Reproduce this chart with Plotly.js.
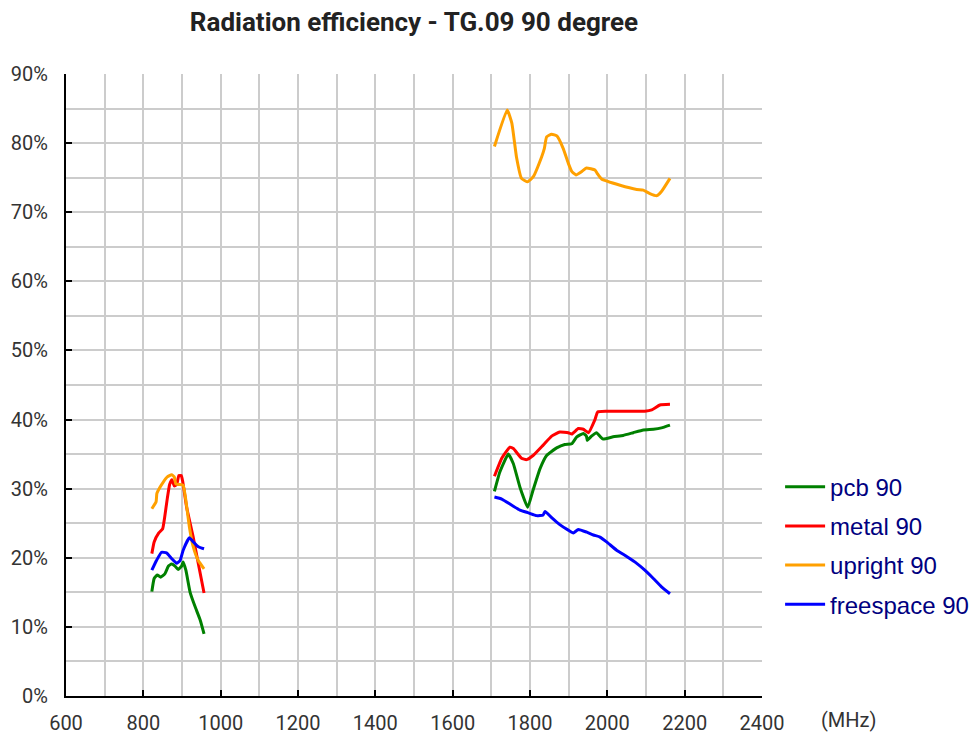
<!DOCTYPE html>
<html>
<head>
<meta charset="utf-8">
<script src="https://cdn.plot.ly/plotly-3.0.1.min.js"></script>
<style>html,body{margin:0;padding:0;background:#fff;}#chart{width:976px;height:740px;}</style>
</head>
<body>
<div id="chart"></div>
<script>
// Series names
var seriesNames = ['pcb 90', 'metal 90', 'upright 90', 'freespace 90'];

// pcb 90
var pcbLowX  = [822, 828, 836, 845, 856, 865, 873, 882, 890, 899, 903, 910, 921, 934, 947, 957];
var pcbLowY  = [15.1, 17.0, 17.5, 17.2, 17.7, 18.8, 19.1, 18.8, 18.3, 18.8, 19.4, 18.2, 15.0, 12.9, 11.0, 9.0];
var pcbHighX = [1708, 1722, 1744, 1757, 1774, 1794, 1808, 1826, 1843, 1869, 1890, 1908, 1921, 1938, 1946, 1948, 1959, 1972, 1988, 2015, 2041, 2067, 2093, 2119, 2140, 2162];
var pcbHighY = [29.6, 32.4, 35.0, 33.6, 30.2, 27.3, 29.8, 32.9, 34.8, 35.9, 36.4, 36.5, 37.5, 38.0, 37.6, 37.0, 37.6, 38.1, 37.2, 37.5, 37.7, 38.1, 38.5, 38.6, 38.8, 39.2];

// metal 90
var metalLowX  = [822, 828, 840, 850, 855, 862, 868, 874, 880, 886, 892, 898, 902, 912, 929, 942, 957];
var metalLowY  = [20.6, 22.3, 23.6, 24.2, 25.8, 28.6, 30.6, 31.3, 30.4, 30.6, 31.9, 31.9, 31.0, 27.3, 23.0, 19.2, 14.9];
var metalHighX = [1708, 1727, 1748, 1757, 1778, 1791, 1808, 1834, 1856, 1877, 1899, 1908, 1925, 1938, 1951, 1968, 1975, 1998, 2097, 2115, 2136, 2162];
var metalHighY = [31.8, 34.4, 36.0, 35.8, 34.4, 34.2, 34.8, 36.3, 37.6, 38.2, 38.1, 37.9, 38.7, 38.6, 38.1, 40.0, 41.1, 41.2, 41.2, 41.4, 42.1, 42.2];

// upright 90
var uprightLowX  = [822, 833, 835, 843, 852, 862, 873, 880, 884, 893, 903, 910, 919, 929, 942, 957];
var uprightLowY  = [27.1, 28.1, 29.3, 30.2, 31.0, 31.7, 32.0, 31.7, 30.7, 30.6, 30.5, 28.3, 24.5, 21.6, 19.6, 18.4];
var uprightHighX = [1708, 1741, 1753, 1765, 1778, 1794, 1808, 1830, 1837, 1843, 1856, 1870, 1886, 1899, 1908, 1919, 1934, 1946, 1968, 1974, 1985, 2033, 2076, 2093, 2110, 2128, 2140, 2162];
var uprightHighY = [79.5, 84.8, 82.9, 78.0, 74.9, 74.4, 75.1, 78.0, 79.2, 80.9, 81.3, 81.0, 79.2, 77.1, 75.9, 75.4, 75.9, 76.4, 76.1, 75.6, 74.8, 73.9, 73.3, 73.2, 72.7, 72.4, 73.0, 74.9];

// freespace 90
var freeLowX  = [822, 834, 847, 860, 873, 886, 895, 903, 919, 929, 942, 957];
var freeLowY  = [18.2, 19.6, 20.8, 20.7, 19.9, 19.2, 19.6, 21.1, 22.9, 22.3, 21.6, 21.3];
var freeHighX = [1708, 1727, 1753, 1774, 1796, 1817, 1834, 1839, 1856, 1877, 1899, 1912, 1925, 1947, 1964, 1981, 1998, 2024, 2050, 2071, 2097, 2119, 2140, 2162];
var freeHighY = [28.8, 28.5, 27.6, 26.9, 26.5, 26.1, 26.2, 26.7, 25.8, 24.8, 24.0, 23.6, 24.1, 23.7, 23.3, 23.0, 22.3, 21.1, 20.2, 19.4, 18.2, 17.0, 15.8, 14.8];

var xTickVals = [600, 800, 1000, 1200, 1400, 1600, 1800, 2000, 2200, 2400];
var xTickText = ['600', '800', '1000', '1200', '1400', '1600', '1800', '2000', '2200', '2400'];
var yTickVals = [0, 10, 20, 30, 40, 50, 60, 70, 80, 90];
var yTickText = ['0%', '10%', '20%', '30%', '40%', '50%', '60%', '70%', '80%', '90%'];

var colors = ['#008000', '#ff0000', '#ffa000', '#0000ff'];
var lows  = [[pcbLowX, pcbLowY], [metalLowX, metalLowY], [uprightLowX, uprightLowY], [freeLowX, freeLowY]];
var highs = [[pcbHighX, pcbHighY], [metalHighX, metalHighY], [uprightHighX, uprightHighY], [freeHighX, freeHighY]];

var traces = [];
for (var i = 0; i < 4; i++) {
  traces.push({
    x: lows[i][0].concat([null], highs[i][0]),
    y: lows[i][1].concat([null], highs[i][1]),
    type: 'scatter', mode: 'lines', name: seriesNames[i],
    legendgroup: 'g' + i,
    connectgaps: false,
    line: {color: colors[i], width: 3, shape: 'spline', smoothing: 0.4}
  });
}

var gridCol = '#cccccc';
var layout = {
  width: 976, height: 740,
  paper_bgcolor: '#fff', plot_bgcolor: '#fff',
  margin: {l: 66, r: 214, t: 74, b: 44, pad: 0, autoexpand: false},
  title: {text: 'Radiation efficiency - TG.09 90 degree', x: 0.5, xref: 'paper', y: 0.97, yref: 'container', yanchor: 'middle',
          font: {family: 'Roboto, "Open Sans", sans-serif', size: 26, color: '#222', weight: 'bold'}},
  xaxis: {
    range: [600, 2400], tickvals: xTickVals, ticktext: xTickText,
    showline: true, linecolor: '#000', linewidth: 2, mirror: false,
    ticks: 'inside', ticklen: 6, tickwidth: 2, tickcolor: '#000',
    showgrid: true, gridcolor: gridCol, gridwidth: 2,
    minor: {dtick: 100, tick0: 600, showgrid: true, gridcolor: gridCol, gridwidth: 2, ticks: ''},
    zeroline: false, ticklabelstandoff: 8, automargin: false,
    tickfont: {family: 'Roboto, sans-serif', size: 20, color: '#333'}
  },
  yaxis: {
    range: [0, 90], tickvals: yTickVals, ticktext: yTickText,
    showline: true, linecolor: '#000', linewidth: 2,
    ticks: 'inside', ticklen: 6, tickwidth: 2, tickcolor: '#000',
    showgrid: true, gridcolor: gridCol, gridwidth: 2,
    minor: {dtick: 5, tick0: 0, showgrid: true, gridcolor: gridCol, gridwidth: 2, ticks: ''},
    zeroline: false, ticklabelstandoff: 12, automargin: false,
    tickfont: {family: 'Roboto, sans-serif', size: 20, color: '#333'}
  },
  showlegend: true,
  legend: {x: 1.026, y: 0.372, xanchor: 'left', yanchor: 'top', bgcolor: 'rgba(0,0,0,0)',
           font: {family: '"Liberation Sans", Arial, sans-serif', size: 24, color: '#000080'},
           tracegroupgap: 5, itemwidth: 40},
  annotations: [{text: '(MHz)', xref: 'paper', yref: 'paper', x: 1.124, y: -0.039, xanchor: 'center', yanchor: 'middle',
                 showarrow: false, font: {family: 'Roboto, sans-serif', size: 20, color: '#333'}}]
};

Plotly.newPlot('chart', traces, layout, {displayModeBar: false, staticPlot: true});
</script>
</body>
</html>
